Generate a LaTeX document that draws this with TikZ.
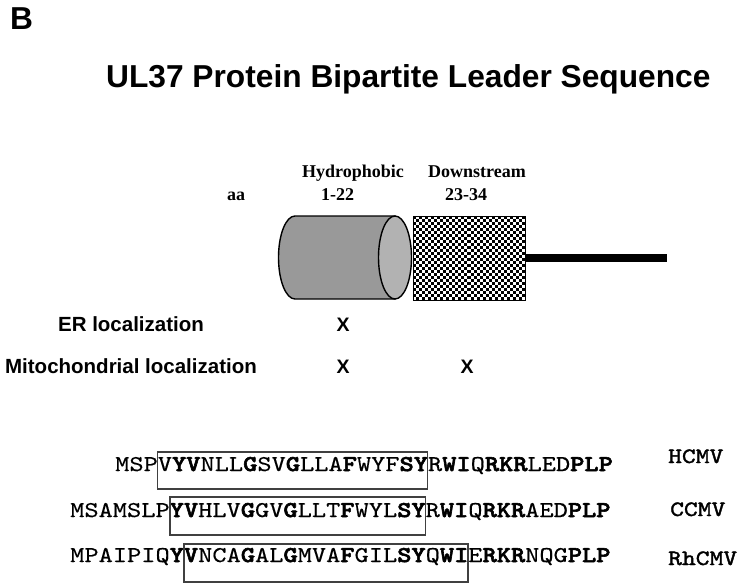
\documentclass[tikz,border=0pt]{standalone}
\usepackage{fontspec}
\setmainfont{Liberation Serif}
\setsansfont{Liberation Sans}
\newfontfamily\seqfont{lmmono10-regular.otf}[FakeStretch=1.2,FakeBold=0.4,BoldFont=lmmonolt10-bold.otf,BoldFeatures={FakeBold=2.6}]
\newfontfamily\virfont{lmmono10-regular.otf}[FakeStretch=1.2,FakeBold=1.6]
\newcommand{\bb}[1]{\textbf{#1}}
\begin{document}
\begin{tikzpicture}[x=1pt,y=-1pt,
  lbl/.style={inner sep=0pt,anchor=base west},
  clbl/.style={inner sep=0pt,anchor=base},
  headtxt/.style={lbl,font=\sffamily\bfseries\fontsize{31.7}{36}\selectfont},
  serlbl/.style={lbl,font=\rmfamily\bfseries\fontsize{18}{22}\selectfont},
  loclbl/.style={clbl,font=\sffamily\bfseries\fontsize{20.5}{24}\selectfont},
  xmark/.style={clbl,font=\sffamily\bfseries\fontsize{19.5}{24}\selectfont},
  seqtxt/.style={lbl,font=\seqfont\fontsize{22.57}{28}\selectfont},
  virtxt/.style={lbl,font=\virfont\fontsize{21.9}{28}\selectfont},
  seqbox/.style={draw=black!75,line width=1.1pt},
  outl/.style={draw=black,line width=1.4pt}]
\useasboundingbox (0,0) rectangle (744,586);
\fill[white] (0,0) rectangle (744,586);

% headings
\node[headtxt] (b) at (10,30) {B};
\node[headtxt] (title) at (106,87) {UL37 Protein Bipartite Leader Sequence};

% column labels
\node[serlbl] (hyd) at (302,177) {Hydrophobic};
\node[serlbl] (dwn) at (428,177) {Downstream};
\node[serlbl] (aa) at (227,200) {aa};
\node[serlbl] (r1) at (321,200) {1-22};
\node[serlbl] (r2) at (445,200) {23-34};

% checkered downstream box
\fill[white] (413,216) rectangle (525,300);
\foreach \i in {0,...,36}{
  \foreach \j in {0,...,27}{
    \pgfmathparse{int(mod(\i+\j,2))}
    \ifnum\pgfmathresult=0
      \fill[black] ({413+3.027*\i},{216+3*\j}) rectangle ({413+3.027*(\i+1)},{216+3*(\j+1)});
    \fi
  }
}
\draw[black,line width=1pt] (413,216) rectangle (525,300);

% tail line
\coordinate (tailA) at (525,257.5);
\coordinate (tailB) at (667,257.5);
\draw[black,line width=8pt] (tailA) -- (tailB);

% cylinder
\path[outl,fill=black!40] (395,216) -- (295,216)
  arc[start angle=270,end angle=90,x radius=16.5,y radius=41.5]
  -- (395,299) -- cycle;
\path[outl,fill=black!30] (395,257.5) ellipse [x radius=16.5,y radius=41.5];

% localization table
\node[loclbl] (er) at (131,331) {ER localization};
\node[loclbl] (mito) at (131,373) {Mitochondrial localization};
\node[xmark] (x1) at (343,331) {X};
\node[xmark] (x2) at (343,373) {X};
\node[xmark] (x3) at (467,373) {X};

% sequences
\node[seqtxt] (s1) at (115,471) {MSPV\bb{YV}NLL\bb{G}SV\bb{G}LLA\bb{F}WYF\bb{SY}R\bb{WI}Q\bb{RKR}LED\bb{PLP}};
\node[seqtxt] (s2) at (70,517) {MSAMSLP\bb{YV}HLV\bb{G}GV\bb{G}LLT\bb{F}WYL\bb{SY}R\bb{WI}Q\bb{RKR}AED\bb{PLP}};
\node[seqtxt] (s3) at (70,562) {MPAIPIQ\bb{YV}NCA\bb{G}AL\bb{G}MVA\bb{F}GIL\bb{SY}Q\bb{WI}E\bb{RKR}NQG\bb{PLP}};

\draw[seqbox] (157.5,452) rectangle (427.5,489);
\draw[seqbox] (170,497) rectangle (425.5,535);
\draw[seqbox] (184,544) rectangle (468,582);

\node[virtxt] (v1) at (668,463) {HCMV};
\node[virtxt] (v2) at (670,516) {CCMV};
\node[virtxt] (v3) at (668,565) {RhCMV};
\end{tikzpicture}
\end{document}
